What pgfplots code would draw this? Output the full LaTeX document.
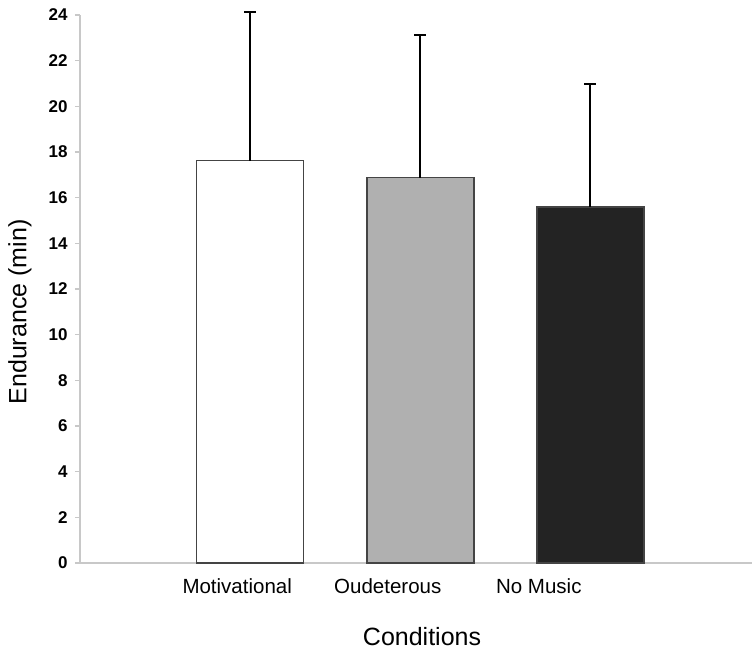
\documentclass[border=0pt]{standalone}
\usepackage{fontspec}
\setmainfont{Liberation Sans}
\usepackage{pgfplots}
\pgfplotsset{compat=1.18}
\definecolor{axgray}{HTML}{C8C8C8}
\definecolor{midgray}{HTML}{B0B0B0}
\definecolor{darkbar}{HTML}{232323}
\definecolor{edge}{HTML}{444444}
\begin{document}
\begin{tikzpicture}
\begin{axis}[
  at={(0pt,0pt)}, anchor=south west,
  scale only axis, width=672pt, height=548pt,
  xmin=0, xmax=3.95, ymin=0, ymax=24,
  clip=false,
  axis x line*=bottom, axis y line*=left,
  axis line style={draw=axgray, line width=1.3pt, -},
  ytick={0,2,...,24},
  tick align=outside,
  major tick length=5pt,
  y tick style={draw=axgray, line width=1.3pt},
  x tick style={draw=none},
  yticklabel style={font=\fontsize{17}{20}\selectfont\bfseries, xshift=-4pt},
  /pgf/number format/assume math mode=true,
  xtick={0.924,1.809,2.697},
  xticklabels={Motivational,Oudeterous,No Music},
  xticklabel style={font=\fontsize{20.5}{24}\selectfont, anchor=base, yshift=-26pt},
  xlabel={Conditions},
  xlabel style={font=\fontsize{25}{30}\selectfont, at={(axis description cs:0.509,0)}, anchor=base, yshift=-83pt},
  ylabel={Endurance (min)},
  ylabel style={font=\fontsize{25}{30}\selectfont, at={([xshift=-60pt]axis description cs:0,0.458)}, anchor=center},
  ybar, bar width=107pt, bar shift=0pt,
  error bars/y dir=plus, error bars/y explicit,
  error bars/error bar style={line width=2pt, black},
  error bars/error mark options={rotate=90, mark size=6pt, line width=2pt, black},
]
\addplot[fill=white, draw=edge, line width=1.5pt] coordinates {(1,17.62) +- (0,6.51)};
\addplot[fill=midgray, draw=edge, line width=1.5pt] coordinates {(2,16.88) +- (0,6.26)};
\addplot[fill=darkbar, draw=edge, line width=1.5pt] coordinates {(3,15.59) +- (0,5.39)};
\end{axis}
\pgfresetboundingbox
\path (-80pt,-89pt) rectangle (675pt,563pt);
\end{tikzpicture}
\end{document}
